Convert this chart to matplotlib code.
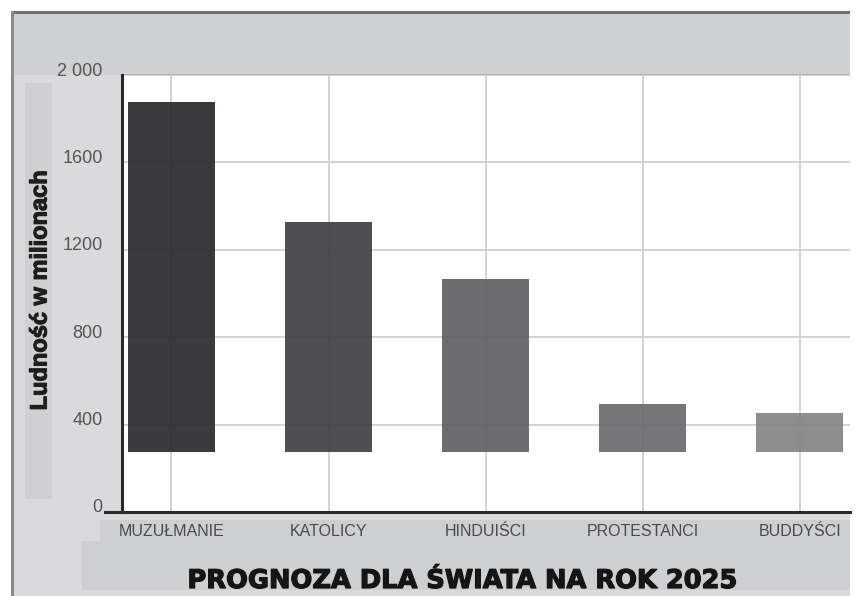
import numpy as np
import matplotlib.pyplot as plt
import matplotlib.transforms as mtransforms
import matplotlib.patheffects as pe
from matplotlib.patches import Rectangle

# Religions and projected population (millions) for 2025
religions = ["MUZUŁMANIE", "KATOLICY", "HINDUIŚCI", "PROTESTANCI", "BUDDYŚCI"]
bar_top = [1878, 1328, 1066, 494, 453]
bar_base = [275, 275, 275, 275, 275]
bar_colors = ["#2c2c2e", "#424244", "#626264", "#6c6c6e", "#858587"]

y_ticks = [0, 400, 800, 1200, 1600, 2000]
y_tick_labels = ["0", "400", "800", "1200", "1600", "2 000"]

W, H = 858, 596
fig = plt.figure(figsize=(W / 100, H / 100), dpi=100)
fig.patch.set_facecolor("white")


def box(x0, y0, x1, y1, color, z=0.1):
    # rectangle given in pixels from the top-left corner
    r = Rectangle((x0 / W, 1 - y1 / H), (x1 - x0) / W, (y1 - y0) / H,
                  transform=fig.transFigure, facecolor=color,
                  edgecolor="none", zorder=z)
    fig.patches.append(r)


# grey frame around the chart
box(12, 12, 850, 596, "#dadadc", z=0.1)
box(12, 12, 850, 75, "#cfd0d2", z=0.2)
box(122, 74, 850, 75.5, "#b4b5b7", z=0.2)
box(12, 11, 850, 13.5, "#707072", z=0.3)
box(11, 11, 13.5, 596, "#8a8a8c", z=0.3)
box(25, 83, 52, 499, "#d0d0d2", z=0.2)
box(100, 520, 850, 541, "#cecfd1", z=0.2)
box(82, 541, 850, 590, "#cecfd1", z=0.2)

ax = fig.add_axes([122 / W, 1 - 512 / H, 728 / W, 437 / H])
ax.set_zorder(1)
ax.set_facecolor("white")

x = np.arange(len(religions))
heights = np.array(bar_top) - np.array(bar_base)
ax.bar(x, heights, bottom=bar_base, width=0.555, color=bar_colors,
       alpha=0.93, zorder=3)

ax.set_xlim(-0.315, 4.32)
ax.set_ylim(0, 2000)
ax.set_xticks(x)
ax.set_xticklabels(religions, family="Liberation Sans", fontsize=11.5,
                   color="#4a4a4a")
ax.set_yticks(y_ticks)
ax.set_yticklabels(y_tick_labels, family="Liberation Sans", fontsize=13,
                   color="#555555")
ax.tick_params(axis="x", length=0, pad=9)
ax.tick_params(axis="y", length=0, pad=14)

# tick labels sit a little above their gridlines
shift = mtransforms.ScaledTranslation(0, 6 / 100, fig.dpi_scale_trans)
for lab in ax.get_yticklabels():
    lab.set_transform(lab.get_transform() + shift)

ax.grid(True, color="#d2d2d4", linewidth=1.4, zorder=1)
ax.set_axisbelow(True)

for side in ["top", "right"]:
    ax.spines[side].set_visible(False)
for side in ["left", "bottom"]:
    ax.spines[side].set_color("#2a2a2a")
    ax.spines[side].set_linewidth(2.2)
    ax.spines[side].set_zorder(5)
# base line reaches a bit past the vertical axis
ax.axhline(0, xmin=-0.024, xmax=0, color="#2a2a2a", linewidth=2.2,
           clip_on=False, zorder=5)

fig.text(40 / W, 1 - 290 / H, "Ludność w milionach", rotation=90,
         ha="center", va="center", family="Liberation Sans",
         fontweight="bold", fontsize=17, color="#1e1e1e", zorder=4,
         path_effects=[pe.withStroke(linewidth=0.8, foreground="#1e1e1e")])

fig.text(463 / W, 1 - 588 / H, "PROGNOZA DLA ŚWIATA NA ROK 2025",
         ha="center", va="baseline", family="DejaVu Sans",
         fontweight="bold", fontsize=18.5, color="#151515", zorder=4,
         path_effects=[pe.withStroke(linewidth=0.9, foreground="#151515")])

fig.savefig("out.png", dpi=100)
